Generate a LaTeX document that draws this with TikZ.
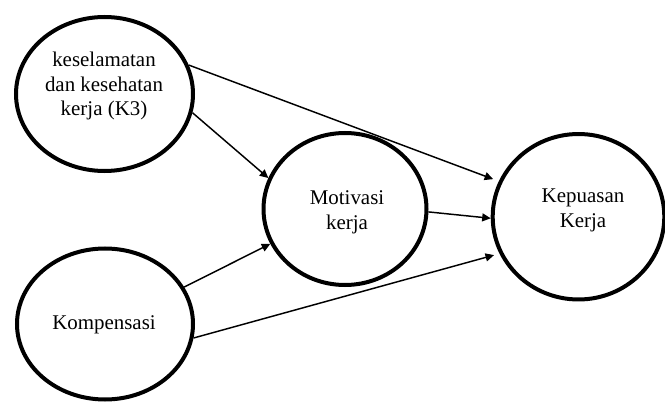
\documentclass[tikz,border=0pt]{standalone}
\usepackage{fontspec}
\setmainfont{Liberation Serif}
\usetikzlibrary{shapes.geometric,arrows.meta}
\begin{document}
\begin{tikzpicture}[x=0.75pt,y=-0.75pt,
  var/.style={ellipse,draw,line width=3pt,inner sep=0pt},
  lbl/.style={align=center,font=\fontsize{15.7}{18.6}\selectfont,inner sep=0pt},
  arr/.style={-{Triangle[length=6.4pt,width=6pt]},line width=1.1pt}]
\useasboundingbox (0,0) rectangle (665,403);
% ellipses
\node[var,minimum width=132.75pt,minimum height=115.5pt] (k3) at (104.5,94) {};
\node[var,minimum width=122.25pt,minimum height=114pt] (mot) at (345,209) {};
\node[var,minimum width=128.7pt,minimum height=124.1pt] (kep) at (578.5,216.75) {};
\node[var,minimum width=132pt,minimum height=113.25pt] (komp) at (105,324) {};
% labels
\node[lbl] (k3t) at (104,86) {keselamatan\\dan kesehatan\\kerja (K3)};
\node[lbl] (mott) at (347,212) {Motivasi\\kerja};
\node[lbl] (kept) at (583,210) {Kepuasan\\Kerja};
\node[lbl] (kompt) at (104,325) {Kompensasi};
% connectors
\draw[arr,shorten >=4.5pt] (k3.19) -- (kep.156);
\draw[arr] (k3.-12) -- (mot.158);
\draw[arr] (mot.-2) -- (kep.181);
\draw[arr] (komp.25) -- (mot.205);
\draw[arr,shorten >=4.2pt] (komp.-9) -- (kep.205);
\end{tikzpicture}
\end{document}
